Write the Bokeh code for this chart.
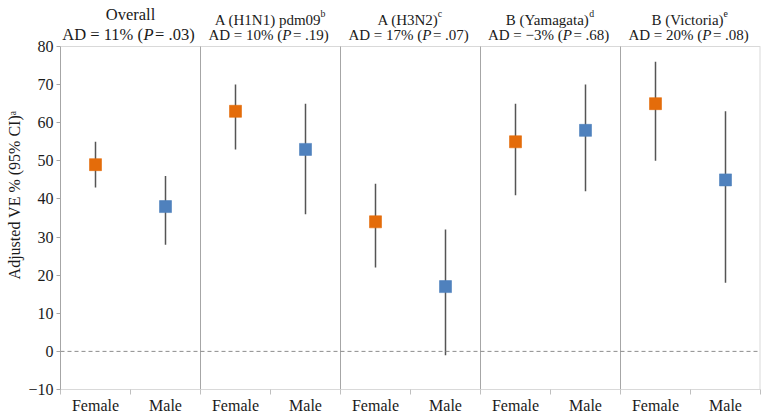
from bokeh.plotting import figure
from bokeh.models import FixedTicker, Span, Label, ColumnDataSource
from bokeh.embed import file_html
from bokeh.resources import INLINE

# ---------------- data ----------------
groups = ["Overall", "A (H1N1) pdm09", "A (H3N2)", "B (Yamagata)", "B (Victoria)"]
group_sup = ["", "b", "c", "d", "e"]
ad_pct = ["11%", "10%", "17%", "\u22123%", "20%"]
p_vals = [".03", ".19", ".07", ".68", ".08"]
sexes = ["Female", "Male"]
female_ve = [49, 63, 34, 55, 65]
female_lo = [43, 53, 22, 41, 50]
female_hi = [55, 70, 44, 65, 76]
male_ve = [38, 53, 17, 58, 45]
male_lo = [28, 36, -1, 42, 18]
male_hi = [46, 65, 32, 70, 63]
y_ticks = [-10, 0, 10, 20, 30, 40, 50, 60, 70, 80]

FONT = "Liberation Serif"
TXT = "#1a1a1a"
ORANGE = "#E46C0A"
BLUE = "#4F81BD"
GRID = "#a6a6a6"
LIGHT = "#d9d9d9"

# Times/Liberation Serif advance widths (em)
W = {"A": .722, "D": .722, " ": .25, "=": .564, "%": .833, "(": .333, ")": .333,
     ".": .25, "P": .611, "\u2212": .564, "H": .722, "N": .722, "B": .667, "Y": .722,
     "V": .722, "O": .722, "p": .5, "d": .5, "m": .778, "a": .444, "g": .5, "t": .278,
     "i": .278, "c": .444, "o": .5, "r": .333, "l": .278, "v": .5, "e": .444}
def text_w(s, size):
    return sum(W.get(ch, .5) for ch in s) * size

Y0, Y1 = -10, 80
HEADER_PX = 46          # header band above the value area
FRAME_PX = 389          # total frame height in pixels
px = (FRAME_PX - HEADER_PX) / (Y1 - Y0)
YTOP = Y1 + HEADER_PX / px

n = len(groups) * len(sexes)
p = figure(width=762, height=416, x_range=(0, n), y_range=(Y0, YTOP),
           output_backend="svg", toolbar_location=None,
           min_border_left=60, min_border_right=2, min_border_top=0, min_border_bottom=26)
p.xgrid.visible = False
p.ygrid.visible = False
p.outline_line_color = None
p.background_fill_color = "white"
p.border_fill_color = "white"

# x axis
centers = [k + 0.5 for k in range(n)]
p.xaxis.ticker = FixedTicker(ticks=centers, minor_ticks=list(range(n + 1)))
p.xaxis.major_label_overrides = {c: sexes[k % 2] for k, c in enumerate(centers)}
p.xaxis.major_tick_line_color = None
p.xaxis.minor_tick_line_color = "#bfbfbf"
p.xaxis.minor_tick_out = 5
p.xaxis.minor_tick_in = 0
p.xaxis.axis_line_color = LIGHT
p.xaxis.major_label_text_font = FONT
p.xaxis.major_label_text_font_size = "16px"
p.xaxis.major_label_text_color = TXT
p.xaxis.major_label_standoff = 1

# y axis
p.yaxis.ticker = FixedTicker(ticks=y_ticks)
p.yaxis.bounds = (Y0, Y1)
p.yaxis.major_label_overrides = {t: (("\u2212" + str(-t)) if t < 0 else str(t)) for t in y_ticks}
p.yaxis.minor_tick_line_color = None
p.yaxis.major_tick_out = 4
p.yaxis.major_tick_in = 0
p.yaxis.major_tick_line_color = GRID
p.yaxis.axis_line_color = GRID
p.yaxis.major_label_text_font = FONT
p.yaxis.major_label_text_font_size = "16px"
p.yaxis.major_label_text_color = TXT
p.yaxis.major_label_standoff = 3
p.yaxis.axis_label = "Adjusted VE % (95% CI)\u1d43"
p.yaxis.axis_label_text_font = FONT
p.yaxis.axis_label_text_font_size = "16px"
p.yaxis.axis_label_text_font_style = "normal"
p.yaxis.axis_label_text_color = TXT
p.yaxis.axis_label_standoff = 2

# frame borders (top, right) and group separators, limited to the value area
p.segment(x0=[0], y0=[Y1], x1=[n], y1=[Y1], line_color=LIGHT, line_width=1)
p.segment(x0=[n], y0=[Y0], x1=[n], y1=[Y1], line_color=LIGHT, line_width=2)
sep = [2 * g for g in range(1, len(groups))]
p.segment(x0=sep, y0=[Y0] * len(sep), x1=sep, y1=[Y1] * len(sep), line_color=GRID, line_width=1)
p.add_layout(Span(location=0, dimension="width", line_color="#8c8c8c", line_width=1, line_dash="4 3"))

# data
xs, ve, lo, hi, col = [], [], [], [], []
for g in range(len(groups)):
    for s, (v, l, h, c) in enumerate([(female_ve[g], female_lo[g], female_hi[g], ORANGE),
                                      (male_ve[g], male_lo[g], male_hi[g], BLUE)]):
        xs.append(2 * g + s + 0.5)
        ve.append(v); lo.append(l); hi.append(h); col.append(c)
src = ColumnDataSource(dict(x=xs, ve=ve, lo=lo, hi=hi, color=col))
p.segment(x0="x", y0="lo", x1="x", y1="hi", source=src, line_color="#555555", line_width=1.5)
p.scatter(x="x", y="ve", source=src, marker="square", size=12, fill_color="color",
          line_color="color", line_alpha=0.6)

# headers
for g, name in enumerate(groups):
    cx = 2 * g + 1
    big = g == 0
    fs = 16.5 if big else 15
    name_up = 32 if big else 27
    ad_up = 12 if big else 11.5
    wn = text_w(name, fs)
    sfs = round(fs * 0.65, 1)
    wsup = 0.5 * sfs if group_sup[g] else 0
    start = -(wn + wsup) / 2
    p.add_layout(Label(x=cx, y=Y1 + name_up / px, x_offset=start, text=name,
                       text_font=FONT, text_font_size=f"{fs}px", text_color=TXT,
                       text_align="left", text_baseline="alphabetic"))
    if group_sup[g]:
        p.add_layout(Label(x=cx, y=Y1 + (name_up + 6) / px, x_offset=start + wn - 1,
                           text=group_sup[g], text_font=FONT, text_font_size=f"{sfs}px",
                           text_color=TXT, text_align="left", text_baseline="alphabetic"))
    left = f"AD = {ad_pct[g]} ("
    right = f" = {p_vals[g]})"
    gap = 1.5
    wl, wp, wr = text_w(left, fs), text_w("P", fs) + gap, text_w(right, fs)
    s0 = -(wl + wp + wr) / 2
    yy = Y1 + ad_up / px
    for t, off, style in [(left, s0, "normal"), ("P", s0 + wl, "italic"),
                          (right, s0 + wl + wp, "normal")]:
        p.add_layout(Label(x=cx, y=yy, x_offset=off, text=t, text_font=FONT,
                           text_font_size=f"{fs}px", text_font_style=style, text_color=TXT,
                           text_align="left", text_baseline="alphabetic"))

open("out.html", "w").write(file_html(p, INLINE))
